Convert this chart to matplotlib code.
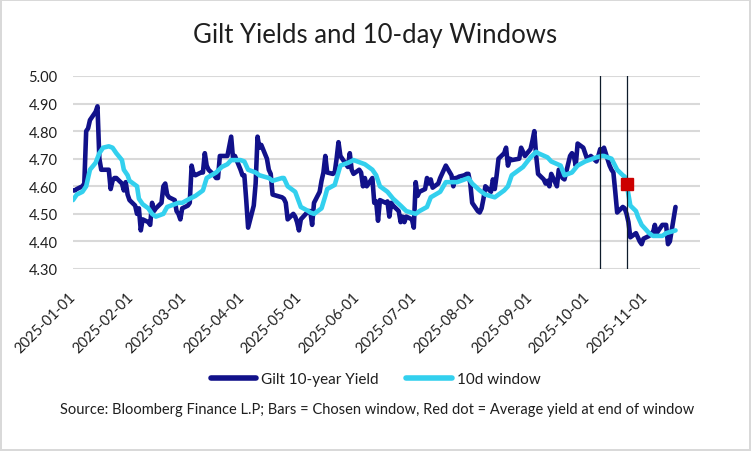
import matplotlib
matplotlib.use("Agg")
import matplotlib.pyplot as plt
import pandas as pd

# ---------------- data ----------------
gilt_dates = [
    "2025-01-01", "2025-01-02", "2025-01-03", "2025-01-06", "2025-01-07", "2025-01-08", "2025-01-09", "2025-01-10",
    "2025-01-13", "2025-01-14", "2025-01-15", "2025-01-16", "2025-01-17", "2025-01-20", "2025-01-21", "2025-01-22",
    "2025-01-23", "2025-01-24", "2025-01-27", "2025-01-28", "2025-01-29", "2025-01-30", "2025-01-31",
    "2025-02-03", "2025-02-04", "2025-02-05", "2025-02-06", "2025-02-07", "2025-02-10", "2025-02-11", "2025-02-12",
    "2025-02-13", "2025-02-14", "2025-02-17", "2025-02-18", "2025-02-19", "2025-02-20", "2025-02-21", "2025-02-24",
    "2025-02-25", "2025-02-26", "2025-02-27", "2025-02-28",
    "2025-03-03", "2025-03-04", "2025-03-05", "2025-03-06", "2025-03-07", "2025-03-10", "2025-03-11", "2025-03-12",
    "2025-03-13", "2025-03-14", "2025-03-17", "2025-03-18", "2025-03-19", "2025-03-20", "2025-03-21", "2025-03-24",
    "2025-03-25", "2025-03-26", "2025-03-27", "2025-03-28", "2025-03-31",
    "2025-04-01", "2025-04-02", "2025-04-03", "2025-04-04", "2025-04-07", "2025-04-08", "2025-04-09", "2025-04-10",
    "2025-04-11", "2025-04-14", "2025-04-15", "2025-04-16", "2025-04-17", "2025-04-22", "2025-04-23", "2025-04-24",
    "2025-04-25", "2025-04-28", "2025-04-29", "2025-04-30",
    "2025-05-01", "2025-05-02", "2025-05-06", "2025-05-07", "2025-05-08", "2025-05-09", "2025-05-12", "2025-05-13",
    "2025-05-14", "2025-05-15", "2025-05-16", "2025-05-19", "2025-05-20", "2025-05-21", "2025-05-22", "2025-05-23",
    "2025-05-27", "2025-05-28", "2025-05-29", "2025-05-30",
    "2025-06-02", "2025-06-03", "2025-06-04", "2025-06-05", "2025-06-06", "2025-06-09", "2025-06-10", "2025-06-11",
    "2025-06-12", "2025-06-13", "2025-06-16", "2025-06-17", "2025-06-18", "2025-06-19", "2025-06-20", "2025-06-23",
    "2025-06-24", "2025-06-25", "2025-06-26", "2025-06-27", "2025-06-30",
    "2025-07-01", "2025-07-02", "2025-07-03", "2025-07-04", "2025-07-07", "2025-07-08", "2025-07-09", "2025-07-10",
    "2025-07-11", "2025-07-14", "2025-07-15", "2025-07-16", "2025-07-17", "2025-07-18", "2025-07-21", "2025-07-22",
    "2025-07-23", "2025-07-24", "2025-07-25", "2025-07-28", "2025-07-29", "2025-07-30", "2025-07-31",
    "2025-08-01", "2025-08-04", "2025-08-05", "2025-08-06", "2025-08-07", "2025-08-08", "2025-08-11", "2025-08-12",
    "2025-08-13", "2025-08-14", "2025-08-15", "2025-08-18", "2025-08-19", "2025-08-20", "2025-08-21", "2025-08-22",
    "2025-08-26", "2025-08-27", "2025-08-28", "2025-08-29",
    "2025-09-01", "2025-09-02", "2025-09-03", "2025-09-04", "2025-09-05", "2025-09-08", "2025-09-09", "2025-09-10",
    "2025-09-11", "2025-09-12", "2025-09-15", "2025-09-16", "2025-09-17", "2025-09-18", "2025-09-19", "2025-09-22",
    "2025-09-23", "2025-09-24", "2025-09-25", "2025-09-26", "2025-09-29", "2025-09-30",
    "2025-10-01", "2025-10-02", "2025-10-03", "2025-10-06", "2025-10-07", "2025-10-08", "2025-10-09", "2025-10-10",
    "2025-10-13", "2025-10-14", "2025-10-15", "2025-10-16", "2025-10-17", "2025-10-20", "2025-10-21", "2025-10-22",
    "2025-10-23", "2025-10-24", "2025-10-27", "2025-10-28", "2025-10-29", "2025-10-30", "2025-10-31",
    "2025-11-03", "2025-11-04", "2025-11-05", "2025-11-06", "2025-11-07", "2025-11-10", "2025-11-11", "2025-11-12",
    "2025-11-13", "2025-11-14", "2025-11-17",
]
gilt_yield = [
    4.585, 4.585, 4.59, 4.60, 4.61, 4.80, 4.81, 4.84,
    4.87, 4.89, 4.70, 4.66, 4.66, 4.66, 4.59, 4.62,
    4.63, 4.63, 4.61, 4.585, 4.615, 4.57, 4.55,
    4.53, 4.50, 4.52, 4.44, 4.48, 4.47, 4.46, 4.54,
    4.51, 4.52, 4.54, 4.60, 4.61, 4.57, 4.56, 4.55,
    4.51, 4.50, 4.48, 4.52,
    4.53, 4.54, 4.675, 4.645, 4.64, 4.65, 4.65, 4.72,
    4.675, 4.66, 4.64, 4.63, 4.63, 4.71, 4.71, 4.71,
    4.745, 4.78, 4.70, 4.71, 4.66,
    4.64, 4.64, 4.55, 4.45, 4.53, 4.61, 4.78, 4.74,
    4.75, 4.70, 4.66, 4.645, 4.57, 4.56, 4.555, 4.54,
    4.48, 4.50, 4.49, 4.47,
    4.44, 4.48, 4.51, 4.51, 4.46, 4.54, 4.58, 4.62,
    4.65, 4.71, 4.65, 4.645, 4.65, 4.70, 4.76, 4.71,
    4.67, 4.72, 4.66, 4.645,
    4.66, 4.65, 4.60, 4.63, 4.60, 4.63, 4.54, 4.545,
    4.475, 4.55, 4.54, 4.545, 4.49, 4.54, 4.53, 4.51,
    4.47, 4.49, 4.47, 4.49, 4.48,
    4.45, 4.615, 4.565, 4.58, 4.59, 4.63, 4.61, 4.625,
    4.595, 4.61, 4.63, 4.645, 4.66, 4.675, 4.64, 4.60,
    4.63, 4.63, 4.635, 4.64, 4.645, 4.645, 4.61,
    4.54, 4.51, 4.505, 4.52, 4.555, 4.60, 4.58, 4.625,
    4.59, 4.64, 4.70, 4.72, 4.74, 4.675, 4.70, 4.695,
    4.70, 4.74, 4.725, 4.71,
    4.735, 4.765, 4.80, 4.71, 4.645, 4.625, 4.61, 4.62,
    4.60, 4.645, 4.60, 4.66, 4.645, 4.63, 4.625, 4.71,
    4.72, 4.71, 4.675, 4.755, 4.74, 4.72,
    4.70, 4.70, 4.71, 4.69, 4.71, 4.735, 4.725, 4.74,
    4.675, 4.66, 4.65, 4.58, 4.505, 4.525, 4.52, 4.50,
    4.47, 4.415, 4.43, 4.415, 4.40, 4.39, 4.41,
    4.42, 4.43, 4.43, 4.46, 4.43, 4.46, 4.46, 4.46,
    4.39, 4.40, 4.525,
]

window_dates = [
    "2025-01-01", "2025-01-03", "2025-01-06", "2025-01-08", "2025-01-10", "2025-01-13", "2025-01-15", "2025-01-17",
    "2025-01-20", "2025-01-22", "2025-01-24", "2025-01-27", "2025-01-28", "2025-01-30", "2025-01-31",
    "2025-02-04", "2025-02-05", "2025-02-07", "2025-02-10", "2025-02-12", "2025-02-14", "2025-02-18", "2025-02-20",
    "2025-02-24", "2025-02-26", "2025-02-28",
    "2025-03-04", "2025-03-07", "2025-03-11", "2025-03-13", "2025-03-18", "2025-03-21", "2025-03-24", "2025-03-26",
    "2025-03-31",
    "2025-04-02", "2025-04-04", "2025-04-08", "2025-04-10", "2025-04-15", "2025-04-17", "2025-04-22", "2025-04-23",
    "2025-04-25", "2025-04-29",
    "2025-05-02", "2025-05-06", "2025-05-07", "2025-05-09", "2025-05-13", "2025-05-15", "2025-05-16", "2025-05-20",
    "2025-05-23", "2025-05-27", "2025-05-30",
    "2025-06-03", "2025-06-05", "2025-06-09", "2025-06-11", "2025-06-13", "2025-06-17", "2025-06-20", "2025-06-24",
    "2025-06-27",
    "2025-07-02", "2025-07-04", "2025-07-08", "2025-07-10", "2025-07-15", "2025-07-18", "2025-07-24", "2025-07-30",
    "2025-08-01", "2025-08-05", "2025-08-08", "2025-08-13", "2025-08-18", "2025-08-20", "2025-08-22", "2025-08-26",
    "2025-08-28",
    "2025-09-01", "2025-09-04", "2025-09-05", "2025-09-10", "2025-09-12", "2025-09-17", "2025-09-19", "2025-09-23",
    "2025-09-26", "2025-09-30",
    "2025-10-06", "2025-10-09", "2025-10-10", "2025-10-14", "2025-10-17", "2025-10-20", "2025-10-21", "2025-10-22",
    "2025-10-23", "2025-10-24", "2025-10-27", "2025-10-28", "2025-10-30",
    "2025-11-03", "2025-11-05", "2025-11-10", "2025-11-12", "2025-11-17",
]
window_avg = [
    4.55, 4.57, 4.58, 4.60, 4.66, 4.685, 4.72, 4.74,
    4.745, 4.74, 4.72, 4.695, 4.66, 4.64, 4.62,
    4.60, 4.555, 4.535, 4.52, 4.50, 4.49, 4.50, 4.525,
    4.535, 4.54, 4.54,
    4.555, 4.565, 4.585, 4.63, 4.65, 4.67, 4.68, 4.695,
    4.695,
    4.69, 4.66, 4.65, 4.64, 4.63, 4.62, 4.63, 4.63,
    4.60, 4.58,
    4.525, 4.51, 4.505, 4.50, 4.52, 4.565, 4.59, 4.605,
    4.675, 4.685, 4.695,
    4.685, 4.68, 4.66, 4.64, 4.60, 4.58, 4.555, 4.53,
    4.51,
    4.50, 4.51, 4.525, 4.56, 4.58, 4.615, 4.615, 4.63,
    4.61, 4.585, 4.57, 4.56, 4.585, 4.60, 4.64, 4.66,
    4.67,
    4.705, 4.725, 4.72, 4.705, 4.69, 4.675, 4.64, 4.65,
    4.675, 4.69,
    4.705, 4.71, 4.71, 4.70, 4.66, 4.64, 4.635, 4.61,
    4.57, 4.53, 4.51, 4.49, 4.46,
    4.43, 4.42, 4.42, 4.43, 4.44,
]

window_start = "2025-10-08"
window_end = "2025-10-22"
window_end_avg = 4.61

tick_labels = ["2025-01-01", "2025-02-01", "2025-03-01", "2025-04-01", "2025-05-01", "2025-06-01",
               "2025-07-01", "2025-08-01", "2025-09-01", "2025-10-01", "2025-11-01"]
y_ticks = [4.30, 4.40, 4.50, 4.60, 4.70, 4.80, 4.90, 5.00]

# ---------------- style ----------------
FONT = ["Lato", "DejaVu Sans"]
plt.rcParams["font.family"] = FONT
NAVY = "#11118a"
CYAN = "#33d0ee"
GRID = "#d9d9d9"
TXT = "#1f1f1f"

fig = plt.figure(figsize=(7.51, 4.52), dpi=100)
fig.patch.set_facecolor("white")
fig.patch.set_edgecolor(GRID)
fig.patch.set_linewidth(1.5)
ax = fig.add_axes([73 / 751, 1 - 270 / 452, (700 - 73) / 751, (270 - 77) / 452])

gd = pd.to_datetime(gilt_dates)
wd = pd.to_datetime(window_dates)

for y in y_ticks:
    ax.axhline(y, color=GRID, lw=1.5, zorder=0)

l_gilt, = ax.plot(gd, gilt_yield, color=NAVY, lw=3.3, solid_joinstyle="round", solid_capstyle="round",
                  label="Gilt 10-year Yield", zorder=3)
l_win, = ax.plot(wd, window_avg, color=CYAN, lw=3.3, solid_joinstyle="round", solid_capstyle="round",
                 label="10d window", zorder=4)

for d in (window_start, window_end):
    ax.axvline(pd.Timestamp(d), color="#0d1b2a", lw=0.9, zorder=5)

ax.plot([pd.Timestamp(window_end)], [window_end_avg], marker="s", ms=8.5, color="#cc0000",
        mec="#cc0000", ls="none", zorder=6)

ax.set_ylim(4.30, 5.00)
ax.set_yticks(y_ticks)
ax.set_yticklabels([f"{v:.2f}" for v in y_ticks], fontsize=10.5, color=TXT)
ax.set_xlim(pd.Timestamp("2025-01-01"), pd.Timestamp("2025-11-30"))
tick_pos = pd.to_datetime(tick_labels)
ax.set_xticks(tick_pos)
ax.set_xticklabels(tick_labels, rotation=45, ha="right", va="center", rotation_mode="anchor",
                   fontsize=10.5, color=TXT)
ax.tick_params(axis="x", length=0, pad=18)
ax.tick_params(axis="y", length=0, pad=11)
for s in ax.spines.values():
    s.set_visible(False)
ax.set_facecolor("none")

fig.text(0.5, 1 - 36 / 452, "Gilt Yields and 10-day Windows", ha="center", va="center",
         fontsize=18.5, color=TXT)

leg = fig.legend(handles=[l_gilt, l_win], loc="center", bbox_to_anchor=(0.5, 1 - 380 / 452),
                 ncol=2, frameon=False, fontsize=11, handlelength=3.0, handletextpad=0.3,
                 columnspacing=1.8)
for h in leg.get_lines():
    h.set_linewidth(4)
for t in leg.get_texts():
    t.set_color(TXT)

fig.text(377 / 751, 1 - 410 / 452,
         "Source: Bloomberg Finance L.P; Bars = Chosen window, Red dot = Average yield at end of window",
         ha="center", va="center", fontsize=10.5, color=TXT)

fig.savefig("out.png", dpi=100, facecolor=fig.get_facecolor(), edgecolor=fig.get_edgecolor())
